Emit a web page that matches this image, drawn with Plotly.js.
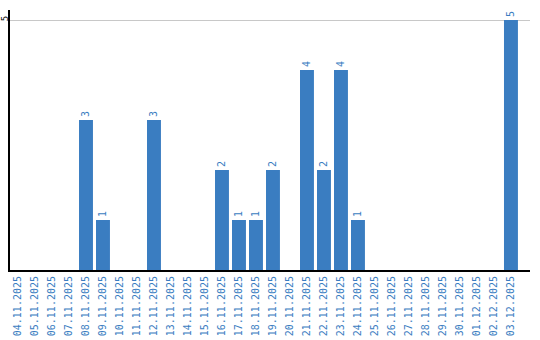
<!DOCTYPE html>
<html><head><meta charset="utf-8">
<script src="https://cdn.plot.ly/plotly-3.0.1.min.js"></script>
<style>html,body{margin:0;padding:0;background:#fff}#c{width:540px;height:340px}</style>
</head><body><div id="c"></div>
<script>
const dates = ["04.11.2025","05.11.2025","06.11.2025","07.11.2025","08.11.2025","09.11.2025","10.11.2025","11.11.2025","12.11.2025","13.11.2025","14.11.2025","15.11.2025","16.11.2025","17.11.2025","18.11.2025","19.11.2025","20.11.2025","21.11.2025","22.11.2025","23.11.2025","24.11.2025","25.11.2025","26.11.2025","27.11.2025","28.11.2025","29.11.2025","30.11.2025","01.12.2025","02.12.2025","03.12.2025"];
const counts = [0,0,0,0,3,1,0,0,3,0,0,0,2,1,1,2,0,4,2,4,1,0,0,0,0,0,0,0,0,5];
const labels = counts.map(v => v > 0 ? String(v) : "");
const blue = "#3a7dc1";
Plotly.newPlot("c", [{
  type: "bar", x: dates, y: counts, text: labels,
  textposition: "outside", textangle: -90, cliponaxis: false,
  textfont: {family: "DejaVu Sans Mono", size: 10, color: blue},
  marker: {color: blue}, hoverinfo: "none"
}], {
  width: 540, height: 340,
  margin: {l: 10, r: 10, t: 10, b: 70, pad: 0},
  paper_bgcolor: "#fff", plot_bgcolor: "#fff",
  showlegend: false, bargap: 0.18,
  xaxis: {type: "category", range: [-0.47, 30.12], tickangle: -90, automargin: false,
    tickfont: {family: "DejaVu Sans Mono", size: 10, color: blue},
    showline: true, linecolor: "#000", linewidth: 2, showgrid: false, ticks: "", ticklen: 0},
  yaxis: {range: [0, 5.2], tickvals: [5], ticktext: ["5"], tickangle: -90, automargin: false,
    ticklabelstandoff: -4,
    tickfont: {family: "DejaVu Sans Mono", size: 9, color: "#000"},
    showline: true, linecolor: "#000", linewidth: 2, showgrid: true, gridcolor: "#c8c8c8", gridwidth: 1,
    zeroline: false, ticks: "", ticklen: 0}
}, {staticPlot: true, displayModeBar: false});
</script></body></html>
